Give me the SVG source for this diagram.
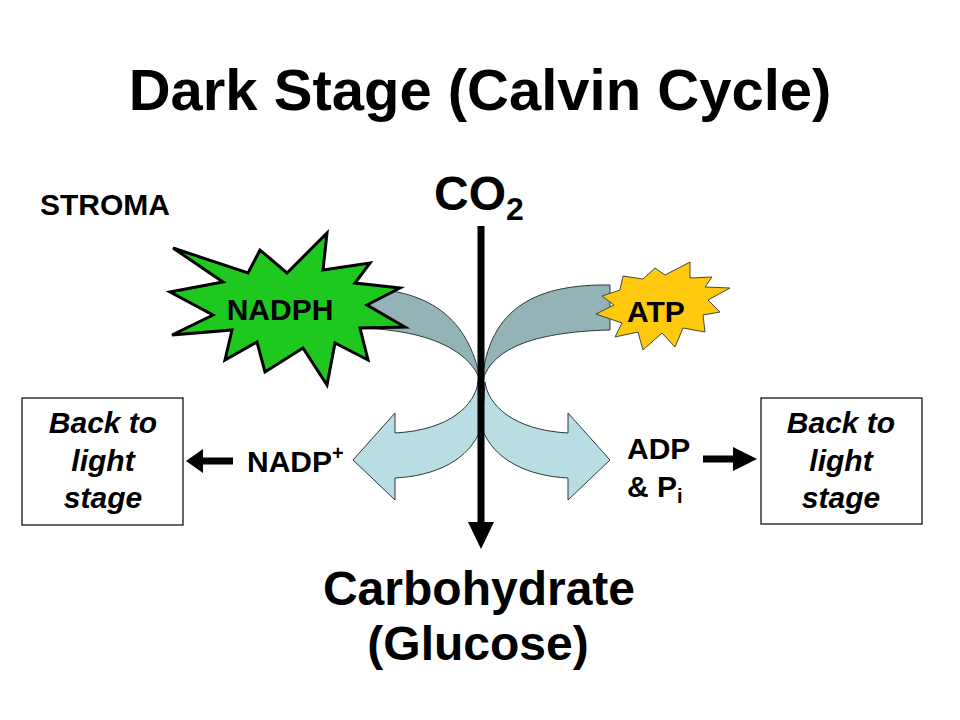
<svg xmlns="http://www.w3.org/2000/svg" width="960" height="720" viewBox="0 0 960 720">
<style>
text{font-family:"Liberation Sans",Arial,sans-serif;font-weight:bold;fill:#000}
.back{fill:#94b3b7;stroke:#2a3a3c;stroke-width:1}
.front{fill:#b8dee3;stroke:#2a3a3c;stroke-width:1}
.box{fill:#fff;stroke:#000;stroke-width:1.2}
.bt{font-size:30px;font-style:italic;text-anchor:middle}
.lbl{font-size:30px}
</style>
<rect width="960" height="720" fill="#fff"/>
<text x="480" y="110" font-size="58" text-anchor="middle">Dark Stage (Calvin Cycle)</text>
<text x="40" y="215" font-size="30">STROMA</text>
<g id="co2"><text x="434" y="210" font-size="48">CO<tspan font-size="32" dy="10">2</tspan></text></g>

<g id="connectors">
<path class="back" d="M350,288 C420,287 468,310 481,383 C472,352 430,328 350,328 Z"/>
<path class="back" d="M610,285 C540,284 488,305 482,383 C490,350 530,332 610,330 Z"/>
<path class="front" d="M478,382 C475,405 450,430 395,433 L395,413 L353,460 L395,500 L395,478 C435,476 470,460 481,428 Z"/>
<path class="front" d="M485,382 C488,405 513,430 568,433 L568,413 L610,460 L568,500 L568,478 C528,476 493,460 482,428 Z"/>
<line x1="481" y1="226" x2="481" y2="524" stroke="#000" stroke-width="7"/>
<polygon points="468,522 494,522 481,549" fill="#000"/>
<line x1="233" y1="461" x2="200" y2="461" stroke="#000" stroke-width="7"/>
<polygon points="203,449 203,473 186,461" fill="#000"/>
<line x1="703" y1="459" x2="737" y2="459" stroke="#000" stroke-width="7"/>
<polygon points="733,447 733,471 757,459" fill="#000"/>
</g>

<g id="nadph">
<polygon points="173,248 248,273 260,250 287,273 327,233 323,270 370,263 355,283 400,288 367,305 405,327 360,328 368,360 335,343 327,385 303,348 265,372 257,342 225,360 232,330 172,335 213,315 170,292 223,282" fill="#1ec81e" stroke="#000" stroke-width="3" stroke-linejoin="miter"/>
<text class="lbl" x="280" y="320" text-anchor="middle">NADPH</text>
</g>

<g id="atp">
<polygon points="623,276 643,279 655,268 665,275 690,262 690,278 712,277 705,287 730,288 708,300 720,312 703,315 705,332 683,328 675,347 662,333 643,350 638,332 615,337 622,323 596,314 614,305 602,296 620,290" fill="#ffc90e" stroke="#444" stroke-width="1"/>
<text class="lbl" x="656" y="322" text-anchor="middle">ATP</text>
</g>

<g id="nadp"><text class="lbl" x="247" y="472">NADP<tspan font-size="20" dy="-12">+</tspan></text></g>
<g id="adp">
<text class="lbl" x="627" y="459">ADP</text>
<text class="lbl" x="627" y="497">&amp; P<tspan font-size="20" dy="6">i</tspan></text>
</g>

<g id="back-left">
<rect class="box" x="22" y="398" width="161" height="127"/>
<text class="bt" x="103" y="433">Back to</text>
<text class="bt" x="103" y="471">light</text>
<text class="bt" x="103" y="508">stage</text>
</g>
<g id="back-right">
<rect class="box" x="761" y="398" width="161" height="126"/>
<text class="bt" x="841" y="433">Back to</text>
<text class="bt" x="841" y="471">light</text>
<text class="bt" x="841" y="508">stage</text>
</g>

<g id="carbohydrate">
<text x="479" y="605" font-size="48" text-anchor="middle">Carbohydrate</text>
<text x="478" y="660" font-size="48" text-anchor="middle">(Glucose)</text>
</g>
</svg>
